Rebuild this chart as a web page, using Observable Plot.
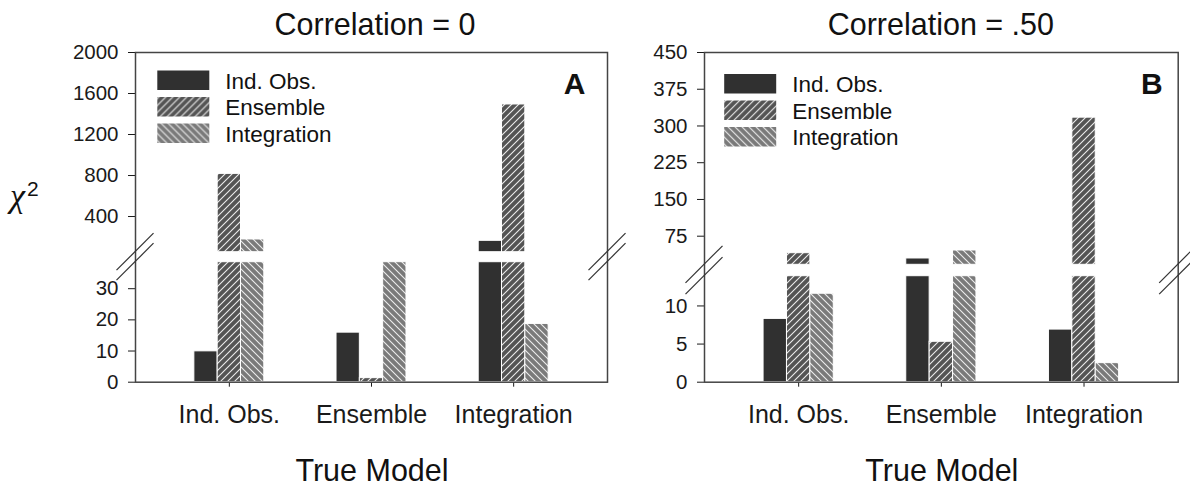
<!DOCTYPE html>
<html>
<head>
<meta charset="utf-8">
<script src="https://cdn.jsdelivr.net/npm/d3@7"></script>
<script src="https://cdn.jsdelivr.net/npm/@observablehq/plot@0.6"></script>
<style>
  body { margin: 0; background: #fff; }
  #wrap { position: relative; width: 1190px; height: 488px; overflow: hidden; font-family: "Liberation Sans", Arial, sans-serif; }
  #wrap > svg { position: absolute; top: 0; }
</style>
</head>
<body>
<div id="wrap"></div>
<script>
// ---------- data ----------
const trueModels = ["Ind. Obs.", "Ensemble", "Integration"];
const fittedModels = ["Ind. Obs.", "Ensemble", "Integration"];

// Panel A: Correlation = 0  (values per true model)
const chiA_indObs      = [9.9, 15.9, 163];
const chiA_ensemble    = [816, 1.3, 1493];
const chiA_integration = [176, 45, 18.7];

// Panel B: Correlation = .50
const chiB_indObs      = [8.3, 29.5, 6.9];
const chiB_ensemble    = [40.3, 5.3, 317];
const chiB_integration = [11.6, 45.8, 2.5];

// axis ticks (lower and upper segments of the broken axis)
const ticksA_low  = [0, 10, 20, 30];
const ticksA_high = [400, 800, 1200, 1600, 2000];
const ticksB_low  = [0, 5, 10];
const ticksB_high = [75, 150, 225, 300, 375, 450];

// axis break: [top of lower segment, bottom of upper segment, top of axis]
const breakA = [38.5, 52, 2000];
const breakB = [13.9, 16.6, 450];

const titles = ["Correlation = 0", "Correlation = .50"];
const letters = ["A", "B"];
const xTitle = "True Model";

// ---------- drawing ----------
const wrap = d3.select("#wrap");
const FONT = "'Liberation Sans', Arial, Helvetica, sans-serif";

// hatch patterns
const defs = wrap.append("svg").attr("width", 0).attr("height", 0)
  .style("position", "absolute").append("defs");
function hatch(id, base, forward) {
  const p = defs.append("pattern").attr("id", id)
    .attr("patternUnits", "userSpaceOnUse").attr("width", 7).attr("height", 7);
  p.append("rect").attr("width", 7).attr("height", 7).attr("fill", base);
  p.append("path")
    .attr("d", forward ? "M-1,1 l2,-2 M0,7 l7,-7 M6,8 l2,-2" : "M-1,6 l2,2 M0,0 l7,7 M6,-1 l2,2")
    .attr("stroke", "#ececec").attr("stroke-width", 1.1).attr("fill", "none");
}
hatch("hatchEns", "#545454", true);
hatch("hatchInt", "#7a7a7a", false);
const fills = ["#303030", "url(#hatchEns)", "url(#hatchInt)"];

const barW = 0.164;
const xDomain = [-0.66, 2.66];

function buildRows(series, brk) {
  const [lo, hi] = brk;
  const rows = [];
  trueModels.forEach((tm, i) => {
    fittedModels.forEach((fm, j) => {
      const v = series[j][i];
      const x1 = i + (j - 1.5) * barW, x2 = x1 + barW;
      rows.push({trueModel: tm, fitted: fm, x1, x2, y1: 0, y2: Math.min(v, lo)});
      if (v > hi) rows.push({trueModel: tm, fitted: fm, x1, x2, y1: hi, y2: v});
    });
  });
  return rows;
}

function panel(cfg) {
  const rows = buildRows(cfg.series, cfg.brk);
  const [lo, hi, top] = cfg.brk;
  const plot = Plot.plot({
    width: cfg.width,
    height: 488,
    marginLeft: cfg.marginLeft,
    marginRight: cfg.marginRight,
    marginTop: 52,
    marginBottom: 106.3,
    style: {fontFamily: FONT, fontSize: "20px", color: "#1a1a1a", background: "transparent", overflow: "visible"},
    x: {type: "linear", domain: xDomain, ticks: [0, 1, 2], tickFormat: i => trueModels[i],
        tickSize: 5, tickPadding: 18, label: null},
    y: {type: "linear", domain: [0, lo, hi, top], range: cfg.yRange,
        ticks: [...cfg.ticksLow, ...cfg.ticksHigh], tickFormat: d => String(d),
        tickSize: 7, tickPadding: 10, label: null},
    color: {type: "ordinal", domain: fittedModels, range: fills},
    marks: [
      Plot.rect(rows, {x1: "x1", x2: "x2", y1: "y1", y2: "y2", fill: "fitted", stroke: "#fff", strokeWidth: 1}),
      Plot.frame({stroke: "#444", strokeWidth: 1.5})
    ]
  });
  const svg = d3.select(plot).style("left", cfg.left + "px");
  svg.selectAll('[aria-label^="x-axis"] text').style("font-size", "25px");
  svg.selectAll('[aria-label^="y-axis"] text').style("font-size", "20.5px");

  const xs = plot.scale("x"), ys = plot.scale("y");
  const fx = xs.apply ? v => xs.apply(v) : d3.scaleLinear(xs.domain, xs.range);
  const fy = ys.apply ? v => ys.apply(v) : d3.scaleLinear(ys.domain, ys.range);
  const xl = fx(xDomain[0]), xr = fx(xDomain[1]), xc = (xl + xr) / 2;

  const g = svg.append("g").attr("font-family", FONT).attr("fill", "#111")
    .attr("text-anchor", "start");

  // break marks
  [lo, hi].forEach(v => {
    const y = fy(v);
    [xl, xr].forEach(x => {
      g.append("line").attr("x1", x - 18.5).attr("y1", y + 18.5)
        .attr("x2", x + 18.5).attr("y2", y - 18.5)
        .attr("stroke", "#333").attr("stroke-width", 1.2);
    });
  });

  // title
  g.append("text").attr("x", xc + cfg.titleDx).attr("y", 35).attr("text-anchor", "middle")
    .attr("font-size", 30.5).text(cfg.title);
  // x title
  g.append("text").attr("x", xc + 1).attr("y", 481).attr("text-anchor", "middle")
    .attr("font-size", 30.5).text(xTitle);
  // panel letter
  g.append("text").attr("x", xr - cfg.letterInset).attr("y", 94).attr("text-anchor", "end")
    .attr("font-size", 30).attr("font-weight", "bold").text(cfg.letter);

  // legend
  const lg = g.append("g").attr("transform", `translate(${xl + cfg.legendDx},${cfg.legendTop})`);
  fittedModels.forEach((fm, j) => {
    lg.append("rect").attr("x", 0).attr("y", j * 26.5).attr("width", 52).attr("height", 19.5)
      .attr("fill", fills[j]);
    lg.append("text").attr("x", 68).attr("y", j * 26.5 + 18).attr("text-anchor", "start")
      .attr("font-size", 22.5).text(fm);
  });

  if (cfg.yTitle) {
    const t = g.append("text").attr("x", 10).attr("y", 207).attr("text-anchor", "start");
    t.append("tspan").attr("font-family", "'Liberation Serif', 'DejaVu Serif', serif")
      .attr("font-style", "italic").attr("font-size", 34).text("χ");
    t.append("tspan").attr("font-size", 21).attr("dy", -11).attr("dx", 2).text("2");
  }
  wrap.node().appendChild(plot);
}

panel({
  series: [chiA_indObs, chiA_ensemble, chiA_integration],
  brk: breakA, yRange: [381.7, 261.7, 251.7, 52],
  ticksLow: ticksA_low, ticksHigh: ticksA_high,
  width: 650, left: 0, marginLeft: 135, marginRight: 43,
  title: titles[0], titleDx: 4, letter: letters[0], letterInset: 21.5,
  legendDx: 22.3, legendTop: 70.5, yTitle: true
});

panel({
  series: [chiB_indObs, chiB_ensemble, chiB_integration],
  brk: breakB, yRange: [381.7, 275.7, 264.3, 52],
  ticksLow: ticksB_low, ticksHigh: ticksB_high,
  width: 540, left: 650, marginLeft: 54, marginRight: 12.3,
  title: titles[1], titleDx: 0, letter: letters[1], letterInset: 15,
  legendDx: 20.2, legendTop: 74, yTitle: false
});
</script>
</body>
</html>
